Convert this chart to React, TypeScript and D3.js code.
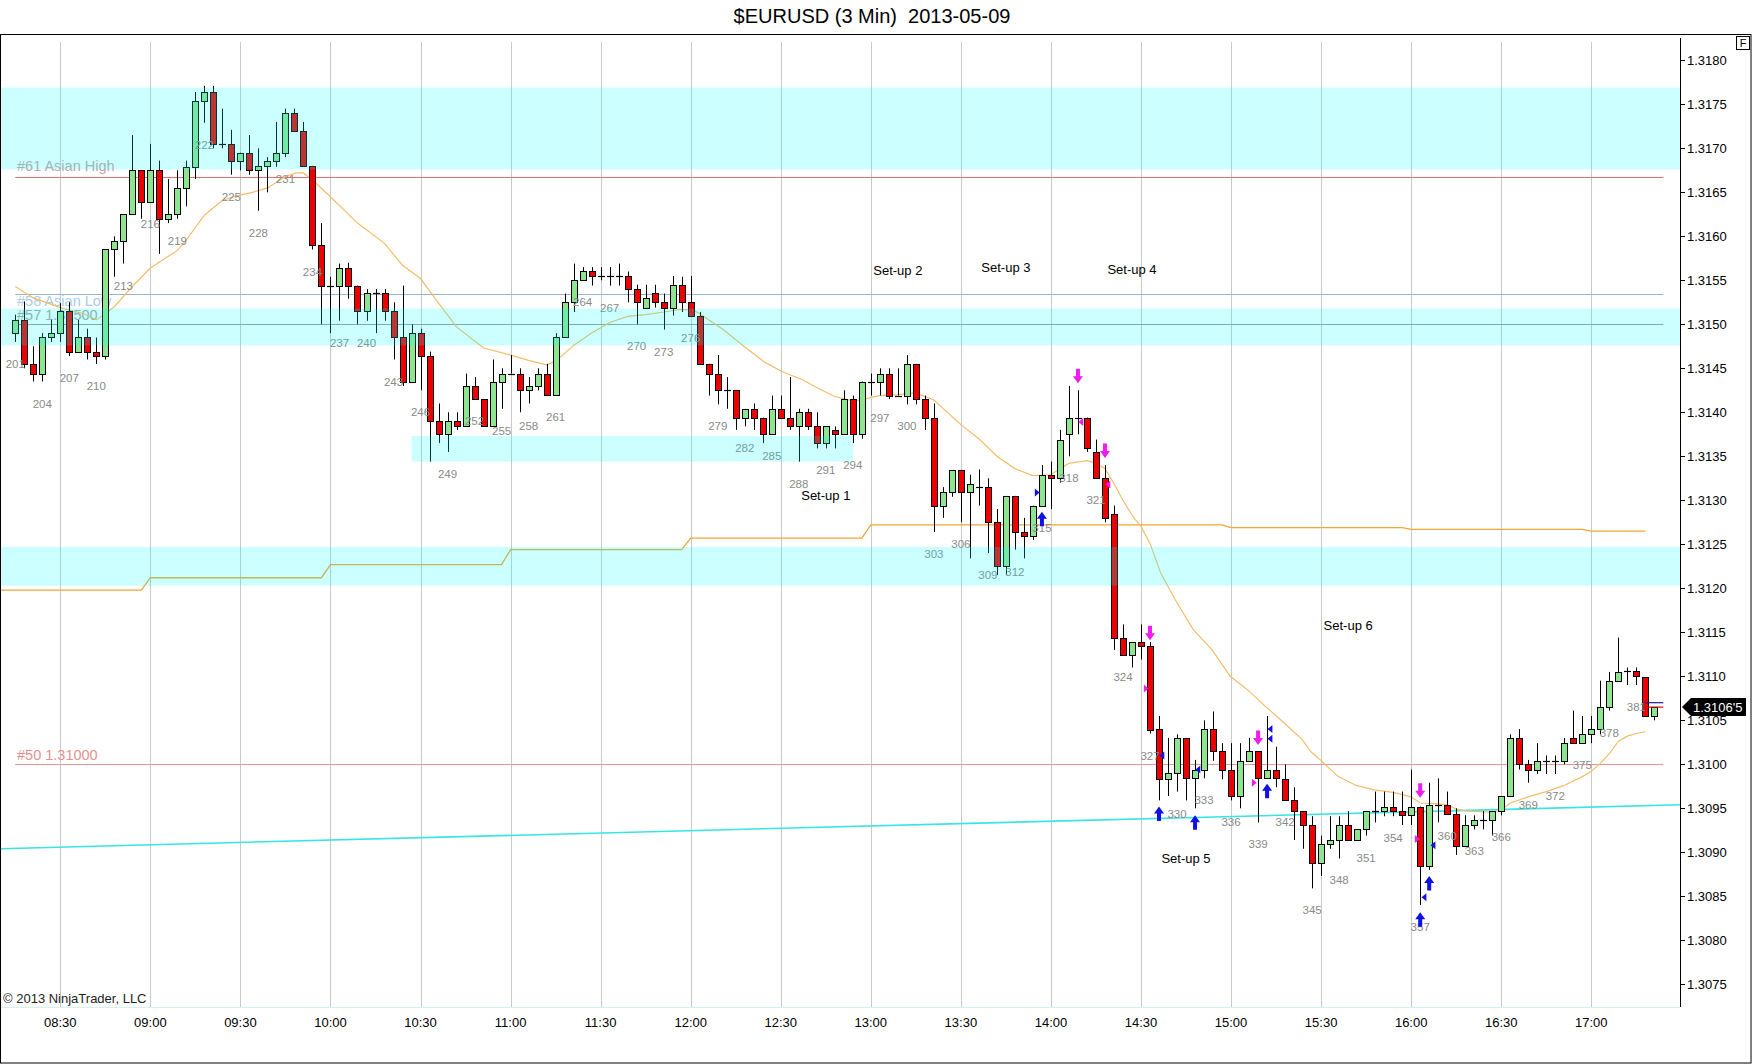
import * as d3 from "d3";

// bars are numbered like the chart does (first visible bar is #201, 3-minute bars)
const firstBar = 201;

const opens = [
  1.31490, 1.31505, 1.31455, 1.31444, 1.31485, 1.31490, 1.31515, 1.31469, 1.31485, 1.31469,
  1.31464, 1.31585, 1.31595, 1.31625, 1.31675, 1.31639, 1.31675, 1.31620, 1.31625, 1.31655,
  1.31679, 1.31754, 1.31764, 1.31705, 1.31705, 1.31686, 1.31695, 1.31675, 1.31680, 1.31686,
  1.31695, 1.31740, 1.31720, 1.31680, 1.31590, 1.31544, 1.31544, 1.31564, 1.31544, 1.31515,
  1.31535, 1.31535, 1.31515, 1.31485, 1.31435, 1.31490, 1.31464, 1.31390, 1.31375, 1.31390,
  1.31385, 1.31430, 1.31415, 1.31385, 1.31435, 1.31444, 1.31444, 1.31425, 1.31430, 1.31444,
  1.31420, 1.31485, 1.31525, 1.31550, 1.31560, 1.31555, 1.31555, 1.31555, 1.31555, 1.31540,
  1.31519, 1.31535, 1.31525, 1.31519, 1.31545, 1.31525, 1.31510, 1.31455, 1.31444, 1.31425,
  1.31425, 1.31394, 1.31404, 1.31394, 1.31375, 1.31404, 1.31394, 1.31384, 1.31400, 1.31384,
  1.31365, 1.31380, 1.31375, 1.31415, 1.31375, 1.31435, 1.31435, 1.31444, 1.31419, 1.31419,
  1.31455, 1.31415, 1.31394, 1.31294, 1.31309, 1.31334, 1.31309, 1.31315, 1.31315, 1.31275,
  1.31225, 1.31305, 1.31264, 1.31259, 1.31294, 1.31329, 1.31325, 1.31375, 1.31394, 1.31394,
  1.31355, 1.31325, 1.31284, 1.31144, 1.31124, 1.31139, 1.31134, 1.31040, 1.30983, 1.30990,
  1.31030, 1.30984, 1.30994, 1.31040, 1.31015, 1.30994, 1.30964, 1.31004, 1.31015, 1.30984,
  1.30994, 1.30983, 1.30959, 1.30947, 1.30931, 1.30888, 1.30909, 1.30914, 1.30931, 1.30914,
  1.30926, 1.30947, 1.30947, 1.30952, 1.30947, 1.30942, 1.30952, 1.30884, 1.30954, 1.30954,
  1.30944, 1.30907, 1.30931, 1.30937, 1.30937, 1.30947, 1.30964, 1.31030, 1.31000, 1.30994,
  1.31004, 1.31004, 1.31004, 1.31030, 1.31024, 1.31034, 1.31040, 1.31065, 1.31095, 1.31106,
  1.31106, 1.31099, 1.31055,
];
const highs = [
  1.31511, 1.31526, 1.31475, 1.31490, 1.31505, 1.31524, 1.31525, 1.31505, 1.31495, 1.31485,
  1.31585, 1.31600, 1.31625, 1.31715, 1.31675, 1.31705, 1.31686, 1.31665, 1.31675, 1.31686,
  1.31764, 1.31771, 1.31771, 1.31745, 1.31721, 1.31695, 1.31715, 1.31700, 1.31690, 1.31730,
  1.31745, 1.31745, 1.31730, 1.31680, 1.31615, 1.31554, 1.31569, 1.31570, 1.31544, 1.31540,
  1.31540, 1.31540, 1.31525, 1.31544, 1.31500, 1.31495, 1.31469, 1.31410, 1.31400, 1.31400,
  1.31444, 1.31440, 1.31415, 1.31460, 1.31450, 1.31465, 1.31450, 1.31440, 1.31450, 1.31455,
  1.31490, 1.31535, 1.31569, 1.31565, 1.31565, 1.31565, 1.31565, 1.31569, 1.31560, 1.31545,
  1.31545, 1.31545, 1.31535, 1.31555, 1.31554, 1.31555, 1.31514, 1.31455, 1.31465, 1.31440,
  1.31425, 1.31404, 1.31410, 1.31394, 1.31419, 1.31419, 1.31440, 1.31404, 1.31404, 1.31400,
  1.31384, 1.31384, 1.31425, 1.31419, 1.31435, 1.31444, 1.31450, 1.31450, 1.31450, 1.31465,
  1.31455, 1.31419, 1.31410, 1.31315, 1.31334, 1.31334, 1.31329, 1.31335, 1.31325, 1.31290,
  1.31305, 1.31305, 1.31280, 1.31294, 1.31340, 1.31344, 1.31380, 1.31430, 1.31425, 1.31394,
  1.31369, 1.31340, 1.31294, 1.31159, 1.31139, 1.31159, 1.31139, 1.31055, 1.31030, 1.31034,
  1.31030, 1.31005, 1.31050, 1.31060, 1.31024, 1.31024, 1.31024, 1.31030, 1.31015, 1.31055,
  1.31020, 1.31000, 1.30974, 1.30947, 1.30941, 1.30919, 1.30941, 1.30941, 1.30947, 1.30926,
  1.30947, 1.30969, 1.30969, 1.30969, 1.30969, 1.30994, 1.30952, 1.30979, 1.30984, 1.30969,
  1.30950, 1.30942, 1.30942, 1.30947, 1.30947, 1.30964, 1.31034, 1.31040, 1.31005, 1.31024,
  1.31010, 1.31010, 1.31030, 1.31061, 1.31055, 1.31055, 1.31095, 1.31105, 1.31144, 1.31110,
  1.31110, 1.31099, 1.31065,
];
const lows = [
  1.31480, 1.31450, 1.31435, 1.31435, 1.31480, 1.31480, 1.31464, 1.31469, 1.31460, 1.31455,
  1.31460, 1.31554, 1.31569, 1.31625, 1.31620, 1.31639, 1.31580, 1.31615, 1.31620, 1.31634,
  1.31665, 1.31729, 1.31700, 1.31700, 1.31670, 1.31675, 1.31670, 1.31629, 1.31650, 1.31679,
  1.31690, 1.31720, 1.31680, 1.31585, 1.31500, 1.31490, 1.31504, 1.31529, 1.31500, 1.31504,
  1.31490, 1.31504, 1.31460, 1.31430, 1.31435, 1.31425, 1.31344, 1.31365, 1.31355, 1.31380,
  1.31385, 1.31415, 1.31385, 1.31385, 1.31404, 1.31444, 1.31400, 1.31410, 1.31425, 1.31420,
  1.31420, 1.31485, 1.31514, 1.31550, 1.31544, 1.31550, 1.31544, 1.31544, 1.31525, 1.31500,
  1.31519, 1.31519, 1.31494, 1.31510, 1.31514, 1.31510, 1.31455, 1.31419, 1.31409, 1.31404,
  1.31380, 1.31384, 1.31380, 1.31365, 1.31375, 1.31394, 1.31380, 1.31344, 1.31380, 1.31359,
  1.31359, 1.31359, 1.31375, 1.31365, 1.31370, 1.31419, 1.31419, 1.31415, 1.31419, 1.31409,
  1.31409, 1.31380, 1.31264, 1.31280, 1.31304, 1.31275, 1.31234, 1.31294, 1.31240, 1.31215,
  1.31215, 1.31244, 1.31234, 1.31255, 1.31294, 1.31290, 1.31320, 1.31350, 1.31375, 1.31355,
  1.31325, 1.31275, 1.31130, 1.31124, 1.31110, 1.31119, 1.31035, 1.30959, 1.30964, 1.30969,
  1.30959, 1.30950, 1.30984, 1.31004, 1.30983, 1.30959, 1.30950, 1.31004, 1.30934, 1.30984,
  1.30974, 1.30959, 1.30914, 1.30904, 1.30859, 1.30873, 1.30904, 1.30893, 1.30914, 1.30914,
  1.30919, 1.30934, 1.30941, 1.30941, 1.30931, 1.30931, 1.30840, 1.30880, 1.30934, 1.30944,
  1.30897, 1.30907, 1.30926, 1.30926, 1.30919, 1.30942, 1.30964, 1.30994, 1.30979, 1.30989,
  1.30989, 1.30989, 1.31000, 1.31024, 1.31024, 1.31024, 1.31034, 1.31061, 1.31095, 1.31090,
  1.31090, 1.31055, 1.31050,
];
const closes = [
  1.31505, 1.31455, 1.31444, 1.31485, 1.31490, 1.31515, 1.31469, 1.31485, 1.31469, 1.31464,
  1.31585, 1.31595, 1.31625, 1.31675, 1.31639, 1.31675, 1.31620, 1.31625, 1.31655, 1.31679,
  1.31754, 1.31764, 1.31705, 1.31705, 1.31686, 1.31695, 1.31675, 1.31680, 1.31686, 1.31695,
  1.31740, 1.31720, 1.31680, 1.31590, 1.31544, 1.31544, 1.31564, 1.31544, 1.31515, 1.31535,
  1.31535, 1.31515, 1.31485, 1.31435, 1.31490, 1.31464, 1.31390, 1.31375, 1.31390, 1.31385,
  1.31430, 1.31415, 1.31385, 1.31435, 1.31444, 1.31444, 1.31425, 1.31430, 1.31444, 1.31420,
  1.31485, 1.31525, 1.31550, 1.31560, 1.31555, 1.31555, 1.31555, 1.31555, 1.31540, 1.31525,
  1.31530, 1.31525, 1.31519, 1.31545, 1.31525, 1.31510, 1.31455, 1.31444, 1.31425, 1.31425,
  1.31394, 1.31404, 1.31394, 1.31375, 1.31404, 1.31394, 1.31384, 1.31400, 1.31384, 1.31365,
  1.31384, 1.31375, 1.31415, 1.31375, 1.31435, 1.31435, 1.31444, 1.31419, 1.31419, 1.31455,
  1.31415, 1.31394, 1.31294, 1.31309, 1.31334, 1.31309, 1.31319, 1.31315, 1.31275, 1.31225,
  1.31305, 1.31264, 1.31259, 1.31294, 1.31329, 1.31325, 1.31369, 1.31394, 1.31394, 1.31359,
  1.31325, 1.31280, 1.31144, 1.31124, 1.31139, 1.31134, 1.31039, 1.30983, 1.30990, 1.31030,
  1.30984, 1.30994, 1.31040, 1.31015, 1.30994, 1.30964, 1.31004, 1.31015, 1.30984, 1.30994,
  1.30984, 1.30959, 1.30947, 1.30931, 1.30888, 1.30909, 1.30914, 1.30931, 1.30914, 1.30926,
  1.30947, 1.30947, 1.30952, 1.30947, 1.30942, 1.30952, 1.30884, 1.30954, 1.30954, 1.30944,
  1.30907, 1.30931, 1.30937, 1.30937, 1.30947, 1.30964, 1.31030, 1.31000, 1.30994, 1.31004,
  1.31004, 1.31004, 1.31024, 1.31024, 1.31034, 1.31040, 1.31065, 1.31095, 1.31105, 1.31106,
  1.31100, 1.31055, 1.31065,
];

// moving average
const emaBars = [
  201, 203, 206, 208.6, 210, 211, 212, 214, 216, 219, 220, 222, 224, 226, 227, 229, 231, 232.2, 233, 234,
  236, 239, 242, 244, 246, 248, 250, 253, 256, 258, 260, 261, 263, 265, 267, 269, 271, 273, 275, 276.3,
  277, 279.6, 281.8, 284.2, 286.2, 288.4, 290.2, 292, 294, 295, 296, 297, 299, 301, 303, 306, 308, 310, 312, 314,
  316, 317, 318, 320, 321, 322, 323, 324, 325, 326, 327, 328.2, 329.8, 331.8, 333.9, 335.9, 337.9, 339.9, 341.9, 343.9,
  344.9, 345.9, 347.9, 349.9, 351.9, 354, 356, 357, 359, 360, 361, 362, 364, 365, 366, 367, 369, 371, 373, 375,
  376, 377, 378, 379, 380, 381, 382,
];
const emaPrices = [
  1.31543, 1.31530, 1.31519, 1.31512, 1.31505, 1.31512, 1.31520, 1.31543, 1.31564, 1.31584, 1.31596, 1.31624, 1.31641, 1.31647, 1.31649, 1.31655, 1.31668, 1.31672, 1.31672, 1.31664,
  1.31645, 1.31615, 1.31592, 1.31567, 1.31552, 1.31524, 1.31497, 1.31473, 1.31465, 1.31459, 1.31454, 1.31458, 1.31476, 1.31490, 1.31502, 1.31509, 1.31511, 1.31514, 1.31517, 1.31516,
  1.31512, 1.31494, 1.31476, 1.31457, 1.31446, 1.31437, 1.31427, 1.31418, 1.31413, 1.31414, 1.31417, 1.31419, 1.31420, 1.31422, 1.31414, 1.31386, 1.31370, 1.31350, 1.31336, 1.31328,
  1.31329, 1.31336, 1.31342, 1.31345, 1.31342, 1.31336, 1.31319, 1.31300, 1.31283, 1.31270, 1.31251, 1.31217, 1.31187, 1.31153, 1.31130, 1.31100, 1.31084, 1.31065, 1.31047, 1.31028,
  1.31014, 1.31005, 1.30986, 1.30976, 1.30971, 1.30968, 1.30963, 1.30956, 1.30955, 1.30954, 1.30949, 1.30947, 1.30946, 1.30946, 1.30948, 1.30956, 1.30963, 1.30969, 1.30976, 1.30986,
  1.30992, 1.31001, 1.31012, 1.31026, 1.31032, 1.31035, 1.31037,
];

// hourly stepped average
const stepStartBars = [199, 216, 236, 256, 276, 296, 336, 356, 376];
const stepLevels = [1.31198, 1.31212, 1.31227, 1.31244, 1.31257, 1.31272, 1.31269, 1.31267, 1.31265];
const stepLastBar = 382;

// rising cyan trend line
const trendBars = [199, 386];
const trendPrices = [1.30904, 1.30954];

// labelled horizontal levels
const levelNames = ["#61 Asian High", "#58 Asian Low", "#57 1.31500", "#50 1.31000"];
const levelPrices = [1.31667, 1.31534, 1.31500, 1.31000];

// supply / demand zones
const zoneTops = [1.31769, 1.31518, 1.31373, 1.31247];
const zoneBottoms = [1.31676, 1.31476, 1.31344, 1.31203];
const zoneFromBars = [199, 199, 245, 199];
const zoneToBars = [387, 387, 294, 387];

const setupNames = ["Set-up 1", "Set-up 2", "Set-up 3", "Set-up 4", "Set-up 5", "Set-up 6"];
const setupBars = [291, 299, 311, 325, 331, 349];
const setupPrices = [1.31306, 1.31562, 1.31565, 1.31563, 1.30894, 1.31158];

// signal markers
const downArrowBars = [319, 322, 327, 339, 357];
const downArrowPrices = [1.31433, 1.31348, 1.31141, 1.31022, 1.30962];
const upArrowBars = [315, 328, 332, 340, 357, 358];
const upArrowPrices = [1.31287, 1.30952, 1.30942, 1.30978, 1.30832, 1.30873];
const triBars = [328.3, 332.3, 340.3, 340.3, 358.4, 357.4, 314.5, 319.3, 322.3, 338.6, 356.7, 326.6];
const triPrices = [1.31010, 1.30994, 1.31040, 1.31029, 1.30908, 1.30849, 1.31309, 1.31389, 1.31318, 1.30979, 1.30915, 1.31086];
const triKinds = ["bL", "bL", "bL", "bL", "bL", "bL", "bR", "mL", "mL", "mR", "mR", "mR"];

const timeLabels = ["08:30", "09:00", "09:30", "10:00", "10:30", "11:00", "11:30", "12:00", "12:30",
  "13:00", "13:30", "14:00", "14:30", "15:00", "15:30", "16:00", "16:30", "17:00"];
const timeFirstBar = 206;
const priceTicks = [1.3075, 1.3080, 1.3085, 1.3090, 1.3095, 1.3100, 1.3105, 1.3110, 1.3115, 1.3120, 1.3125,
  1.3130, 1.3135, 1.3140, 1.3145, 1.3150, 1.3155, 1.3160, 1.3165, 1.3170, 1.3175, 1.3180];
const lastPrice = 1.31065;
const lastPriceText = "1.3106'5";
const bidLine = 1.31070;

const W = 1752;
const H = 1064;
const plotRight = 1680;
const plotTop = 38;
const plotBottom = 1007;
const font = "'Liberation Sans', Arial, sans-serif";

const levelLine = ["#e07070", "#93b6cc", "#9a9a9a", "#e89494"];
const levelText = ["#c9a2a2", "#a9cde4", "#a3a3a3", "#e69090"];
const levelDy = [-6, 12, -4, -4];
const MAGENTA = "#f01cf0";
const BLUE = "#1010e8";

export default function App() {
  const x = d3.scaleLinear().domain([206, 376]).range([60.3, 1591.3]);
  const y = d3.scaleLinear().domain([1.3150, 1.3100]).range([324.3, 764.3]);

  const bars = opens.map((o, i) => ({ n: firstBar + i, o, h: highs[i], l: lows[i], c: closes[i] }));

  const line = d3.line<[number, number]>().x((d) => x(d[0])).y((d) => y(d[1]));
  const emaPath = line(emaBars.map((b, i) => [b, emaPrices[i]]));

  const stepPts: [number, number][] = [];
  stepLevels.forEach((lv, i) => {
    const end = i < stepLevels.length - 1 ? stepStartBars[i + 1] - 1 : stepLastBar;
    stepPts.push([stepStartBars[i], lv], [end, lv]);
  });
  const stepPath = line(stepPts);
  const trendPath = line(trendBars.map((b, i) => [b, trendPrices[i]]));

  const cx = (n: number) => Math.round(x(n));

  // thick block arrow, tip at (ax, ay); dir = 1 points down, -1 points up
  const arrow = (ax: number, ay: number, dir: number) => {
    const hy = ay - dir * 7;
    const ty = ay - dir * 14.5;
    return `M${ax},${ay} L${ax - 5},${hy} L${ax - 2},${hy} L${ax - 2},${ty} L${ax + 2},${ty} L${ax + 2},${hy} L${ax + 5},${hy} Z`;
  };

  return (
    <div style={{ position: "absolute", left: 0, top: 0, background: "#fff" }}>
      <svg width={W} height={H} viewBox={`0 0 ${W} ${H}`} style={{ display: "block", fontFamily: font }}>
        <defs>
          <clipPath id="plot">
            <rect x={1} y={plotTop} width={plotRight - 1} height={plotBottom - plotTop} />
          </clipPath>
        </defs>
        <rect x={0} y={0} width={W} height={H} fill="#fff" />
        <text x={872} y={23} textAnchor="middle" fontSize={20} fill="#000" style={{ whiteSpace: "pre" }}>
          {"$EURUSD (3 Min)  2013-05-09"}
        </text>
        <rect x={0.5} y={34.5} width={W - 1.5} height={H - 35.5} fill="none" stroke="#000" />

        {/* vertical time grid */}
        {timeLabels.map((t, i) => (
          <line key={t} x1={cx(timeFirstBar + i * 10) + 0.5} x2={cx(timeFirstBar + i * 10) + 0.5}
            y1={plotTop + 4} y2={plotBottom} stroke="#c9c9c9" />
        ))}
        <line x1={1} x2={plotRight} y1={plotBottom + 0.5} y2={plotBottom + 0.5} stroke="#d2f2f2" />

        <g clipPath="url(#plot)">
          {/* level lines and their labels */}
          {levelNames.map((nm, i) => (
            <g key={nm}>
              <line x1={x(201)} x2={x(384)} y1={Math.round(y(levelPrices[i])) + 0.5} y2={Math.round(y(levelPrices[i])) + 0.5}
                stroke={levelLine[i]} strokeWidth={1} />
              <text x={17} y={y(levelPrices[i]) + levelDy[i]} fontSize={14.5} fill={levelText[i]}>{nm}</text>
            </g>
          ))}

          <path d={trendPath ?? ""} fill="none" stroke="#38e4e4" strokeWidth={1.6} />
          <path d={stepPath ?? ""} fill="none" stroke="#f2a634" strokeWidth={1.3} />
          <path d={emaPath ?? ""} fill="none" stroke="#f4bd6a" strokeWidth={1.2} />

          {/* candles */}
          {bars.map((b) => {
            const px = cx(b.n) + 0.5;
            const up = b.c >= b.o;
            const top = Math.round(y(Math.max(b.o, b.c))) + 0.5;
            const bot = Math.round(y(Math.min(b.o, b.c))) + 0.5;
            const doji = bot - top < 1.5;
            return (
              <g key={b.n}>
                <line x1={px} x2={px} y1={y(b.h)} y2={y(b.l)} stroke="#000" strokeWidth={1} />
                {doji ? (
                  <line x1={px - 3.5} x2={px + 3.5} y1={top} y2={top} stroke="#000" strokeWidth={1.2} />
                ) : (
                  <rect x={px - 3} y={top} width={6} height={bot - top}
                    fill={up ? "#8fe48f" : "#ee0000"} stroke="#000" strokeWidth={1} />
                )}
              </g>
            );
          })}

          {/* bar numbers every third bar */}
          {bars.filter((b) => (b.n - firstBar) % 3 === 0).map((b) => (
            <text key={"n" + b.n} x={x(b.n)} y={y(b.l) + 26} textAnchor="middle" fontSize={11.5} fill="#8a8a8a">
              {b.n}
            </text>
          ))}

          {/* zones, drawn translucent over the price bars */}
          {zoneTops.map((t, i) => (
            <rect key={"z" + i} x={Math.max(0, x(zoneFromBars[i]))} y={y(t)}
              width={Math.min(plotRight, x(zoneToBars[i])) - Math.max(0, x(zoneFromBars[i]))}
              height={y(zoneBottoms[i]) - y(t)} fill="rgb(0,255,255)" fillOpacity={0.2} />
          ))}

          {/* last price ticks */}
          <line x1={x(382)} x2={x(384)} y1={y(bidLine)} y2={y(bidLine)} stroke="#1a1aa0" strokeWidth={1.2} />
          <line x1={x(382)} x2={x(384)} y1={y(lastPrice)} y2={y(lastPrice)} stroke="#d01010" strokeWidth={1.2} />

          {/* signal arrows */}
          {downArrowBars.map((b, i) => (
            <path key={"d" + i} fill={MAGENTA} d={arrow(x(b), y(downArrowPrices[i]), 1)} />
          ))}
          {upArrowBars.map((b, i) => (
            <path key={"u" + i} fill={BLUE} d={arrow(x(b), y(upArrowPrices[i]), -1)} />
          ))}
          {triBars.map((b, i) => {
            const tx = x(b);
            const ty = y(triPrices[i]);
            const k = triKinds[i];
            const left = k[1] === "L";
            const d = left
              ? `M${tx - 2.2},${ty} L${tx + 2.6},${ty - 4} L${tx + 2.6},${ty + 4} Z`
              : `M${tx + 2.2},${ty} L${tx - 2.6},${ty - 4} L${tx - 2.6},${ty + 4} Z`;
            return <path key={"t" + i} d={d} fill={k[0] === "b" ? BLUE : MAGENTA} />;
          })}

          {setupNames.map((s, i) => (
            <text key={s} x={x(setupBars[i])} y={y(setupPrices[i]) + 5} textAnchor="middle" fontSize={13} fill="#000">{s}</text>
          ))}
        </g>

        {/* price axis */}
        <line x1={plotRight + 0.5} x2={plotRight + 0.5} y1={plotTop} y2={plotBottom} stroke="#000" />
        {priceTicks.map((p) => (
          <g key={p}>
            <line x1={plotRight} x2={plotRight + 5} y1={Math.round(y(p)) + 0.5} y2={Math.round(y(p)) + 0.5} stroke="#000" />
            <text x={plotRight + 7} y={y(p) + 4.5} fontSize={13} fill="#000">{p.toFixed(4)}</text>
          </g>
        ))}
        <path
          d={`M${plotRight + 2},${y(lastPrice)} L${plotRight + 11},${y(lastPrice) - 9} L${plotRight + 66},${y(lastPrice) - 9} L${plotRight + 66},${y(lastPrice) + 9} L${plotRight + 11},${y(lastPrice) + 9} Z`}
          fill="#000" />
        <text x={plotRight + 13} y={y(lastPrice) + 5} fontSize={13} fill="#fff">{lastPriceText}</text>

        {/* time axis */}
        {timeLabels.map((t, i) => (
          <text key={"x" + t} x={x(timeFirstBar + i * 10)} y={1027} textAnchor="middle" fontSize={13} fill="#000">{t}</text>
        ))}

        <text x={3} y={1003} fontSize={13} fill="#222">© 2013 NinjaTrader, LLC</text>

        <rect x={1736.5} y={36.5} width={13} height={13} fill="#fff" stroke="#000" />
        <text x={1743} y={47} textAnchor="middle" fontSize={11} fill="#000">F</text>
      </svg>
    </div>
  );
}
